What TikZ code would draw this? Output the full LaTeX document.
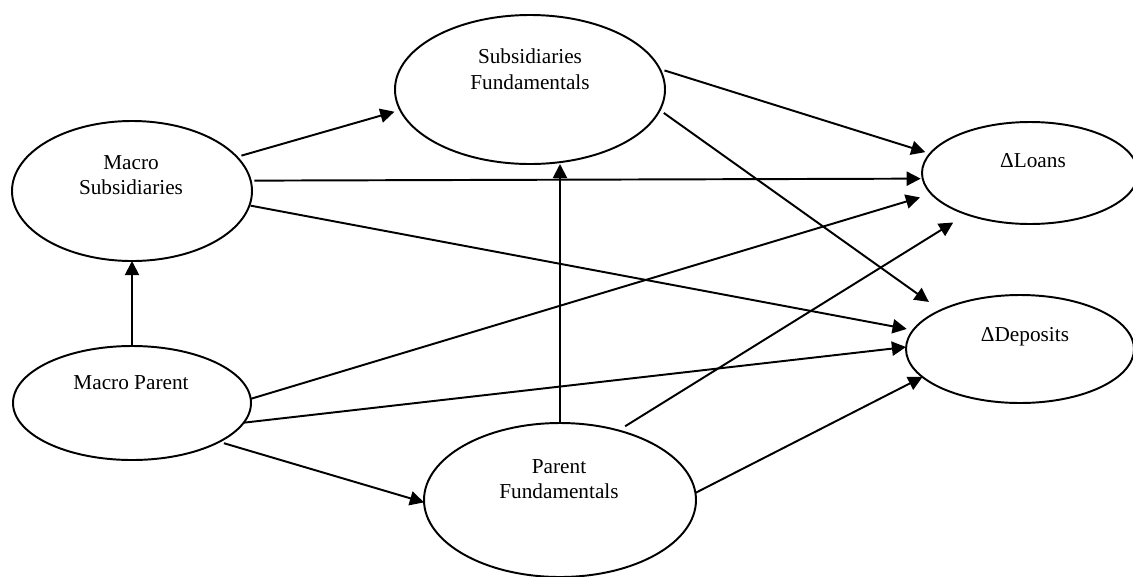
\documentclass[tikz,border=0pt]{standalone}
\usepackage{fontspec}
\setmainfont{Liberation Serif}
\usetikzlibrary{arrows.meta,shapes.geometric}
\begin{document}
\begin{tikzpicture}[x=0.5645pt,y=-0.5645pt,
  oval/.style={ellipse,draw,line width=1.1pt,inner sep=0pt,outer sep=0pt},
  lbl/.style={font=\fontsize{12}{14.4}\selectfont,align=center,inner sep=0pt},
  conn/.style={line width=1.1pt,-{Triangle[length=8pt,width=8pt]}}]
\useasboundingbox (0,0) rectangle (1133,576);
% ellipses
\node[oval,minimum width=135.48pt,minimum height=79.03pt] (MS) at (132,191) {};
\node[oval,minimum width=152.42pt,minimum height=84.11pt] (SF) at (530,89.5) {};
\node[oval,minimum width=121.93pt,minimum height=57.58pt] (L) at (1030,173) {};
\node[oval,minimum width=128.71pt,minimum height=60.97pt] (D) at (1020,349) {};
\node[oval,minimum width=134.35pt,minimum height=64.35pt] (MP) at (132,403) {};
\node[oval,minimum width=153.54pt,minimum height=86.93pt] (PF) at (560,500) {};
% labels
\node[lbl] (MSt) at (131,175.1) {Macro\\Subsidiaries};
\node[lbl] (SFt) at (530,69) {Subsidiaries\\Fundamentals};
\node[lbl] (PFt) at (559,479) {Parent\\Fundamentals};
\node[lbl,anchor=base] (Lt) at (1033,167.7) {ΔLoans};
\node[lbl,anchor=base] (Dt) at (1025,341) {ΔDeposits};
\node[lbl,anchor=base] (MPt) at (131,389) {Macro Parent};
% connectors
\draw[conn] (MP.north) -- (MS.south);
\draw[conn,shorten <=2.7pt,shorten >=3.4pt] (MS.18.9) -- (SF.189.9);
\draw[conn,shorten <=2.1pt,shorten >=1.1pt] (MS.5.6) -- (L.183.1);
\draw[conn,shorten <=0.7pt,shorten >=3.7pt] (MS.-7.7) -- (D.170.5);
\draw[conn,shorten >=6.8pt] (MP.2.9) -- (L.192.9);
\draw[conn] (MP.-10.2) -- (D.179);
\draw[conn,shorten <=2.8pt] (MP.-24) -- (PF.181.3);
\draw[conn] (PF.north) -- (PF.north |- SF.south);
\draw[conn,shorten <=4.5pt,shorten >=8.8pt] (PF.50.8) -- (L.213.3);
\draw[conn] (PF.3) -- (D.196);
\draw[conn,shorten <=2.8pt,shorten >=2.8pt] (SF.9.5) -- (L.169.2);
\draw[conn,shorten <=2.8pt,shorten >=8.1pt] (SF.-9.9) -- (D.154.9);
\end{tikzpicture}
\end{document}
